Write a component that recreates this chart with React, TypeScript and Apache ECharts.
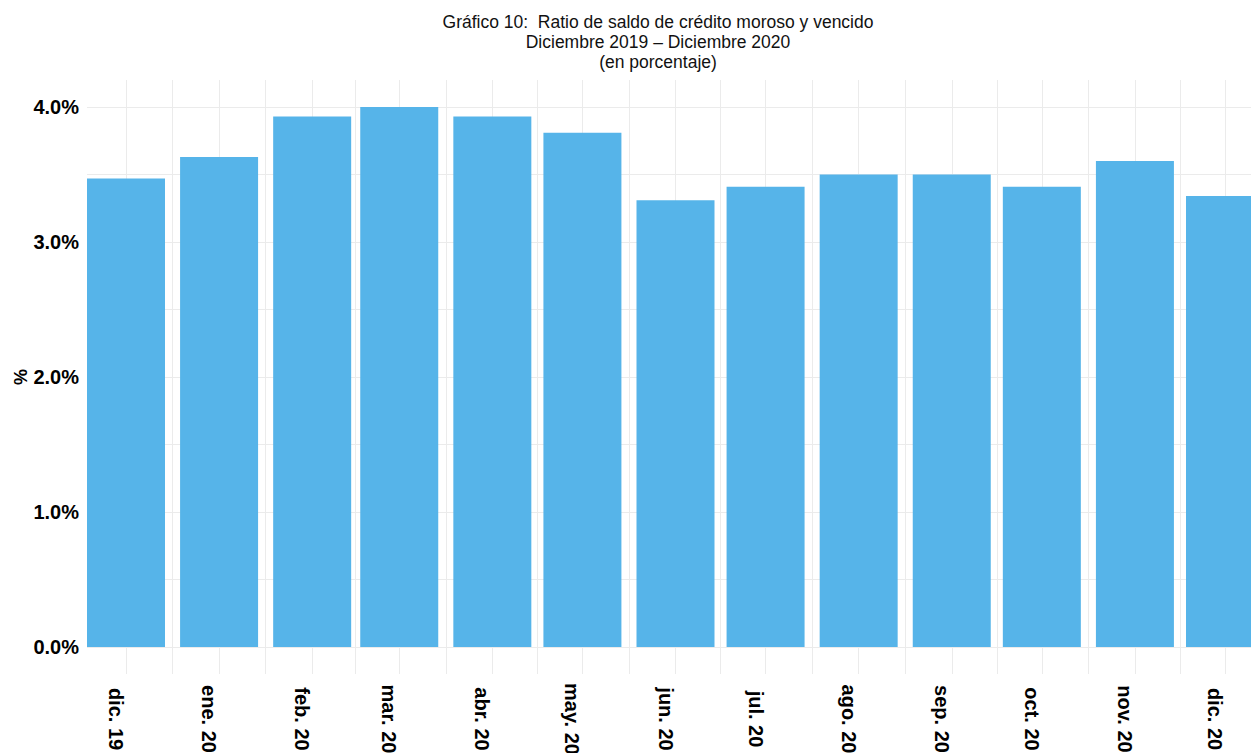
import React, { useEffect, useRef } from "react";
import * as echarts from "echarts";

// Month starts plotted on a time axis (bars centred on the first of each month)
const monthDates = [
  "2019-12-01", "2020-01-01", "2020-02-01", "2020-03-01", "2020-04-01",
  "2020-05-01", "2020-06-01", "2020-07-01", "2020-08-01", "2020-09-01",
  "2020-10-01", "2020-11-01", "2020-12-01",
];
const monthLabels = [
  "dic. 19", "ene. 20", "feb. 20", "mar. 20", "abr. 20", "may. 20", "jun. 20",
  "jul. 20", "ago. 20", "sep. 20", "oct. 20", "nov. 20", "dic. 20",
];
// Ratio de saldo de crédito moroso y vencido (%)
const ratioValues = [3.47, 3.63, 3.93, 4.0, 3.93, 3.81, 3.31, 3.41, 3.5, 3.5, 3.41, 3.6, 3.34];

const yLabelValues = [0, 1, 2, 3, 4];
const yGridValues = [0, 0.5, 1, 1.5, 2, 2.5, 3, 3.5, 4];

const titleLines = [
  "Gráfico 10:  Ratio de saldo de crédito moroso y vencido",
  "Diciembre 2019 – Diciembre 2020",
  "(en porcentaje)",
];

const DAY = 86400000;
const toUTC = (s: string) => {
  const [y, m, d] = s.split("-").map(Number);
  return Date.UTC(y, m - 1, d);
};

const FONT = "'Liberation Sans', Arial, Helvetica, sans-serif";

export default function App() {
  const ref = useRef<HTMLDivElement>(null);

  useEffect(() => {
    if (!ref.current) return;
    const chart = echarts.init(ref.current, undefined, { renderer: "svg" });

    const times = monthDates.map(toUTC);
    const midTimes = times.slice(1).map((t, i) => (t + times[i]) / 2);

    const gridLine = { color: "#ebebeb", width: 1, type: "solid" as const };

    chart.setOption({
      animation: false,
      useUTC: true,
      backgroundColor: "#ffffff",
      title: {
        text: titleLines.join("\n"),
        left: 653,
        top: 7,
        textAlign: "center",
        textStyle: {
          fontFamily: FONT,
          fontSize: 17.5,
          fontWeight: "normal",
          color: "#111111",
          lineHeight: 20,
        },
      },
      grid: {
        left: 87,
        top: 80,
        width: 1177,
        height: 594,
        containLabel: false,
        outerBoundsMode: "none",
      },
      xAxis: {
        // the bar layout widens this range by half a bar on each side
        type: "time",
        min: times[0],
        max: times[times.length - 1],
        splitNumber: 13,
        minInterval: 28 * DAY,
        maxInterval: 31 * DAY,
        axisLine: { show: false },
        axisTick: { show: false },
        splitLine: { show: false },
        axisLabel: {
          rotate: -90,
          align: "center",
          verticalAlign: "top",
          margin: 45,
          hideOverlap: false,
          fontFamily: FONT,
          fontSize: 20,
          fontWeight: "bold",
          color: "#000000",
          formatter: (value: number) => {
            const idx = times.findIndex((t) => Math.abs(t - value) < DAY / 2);
            return idx >= 0 ? monthLabels[idx] : "";
          },
        },
      },
      yAxis: {
        type: "value",
        min: -0.2,
        max: 4.2,
        interval: 0.1,
        name: "%",
        nameLocation: "middle",
        nameRotate: 90,
        nameGap: 57,
        nameMoveOverlap: false,
        nameTextStyle: {
          fontFamily: FONT,
          fontSize: 18,
          fontWeight: "bold",
          color: "#000000",
        },
        axisLine: { show: false },
        axisTick: { show: false },
        splitLine: { show: false },
        axisLabel: {
          margin: 8,
          fontFamily: FONT,
          fontSize: 20,
          fontWeight: "bold",
          color: "#000000",
          formatter: (value: number) => {
            const hit = yLabelValues.find((v) => Math.abs(v - value) < 1e-6);
            return hit === undefined ? "" : `${hit.toFixed(1)}%`;
          },
        },
      },
      series: [
        {
          // panel grid drawn behind the bars
          type: "line",
          z: 0,
          data: [],
          silent: true,
          markLine: {
            z: 0,
            silent: true,
            symbol: ["none", "none"],
            label: { show: false },
            emphasis: { disabled: true },
            lineStyle: gridLine,
            data: [
              ...yGridValues.map((v) => ({ yAxis: v })),
              ...times.map((t) => ({ xAxis: t })),
              ...midTimes.map((t) => ({ xAxis: t })),
            ],
          },
        },
        {
          type: "bar",
          z: 2,
          barWidth: 78,
          itemStyle: { color: "#56B4E9" },
          emphasis: { disabled: true },
          data: times.map((t, i) => [t, ratioValues[i]]),
        },
      ],
    });

    return () => chart.dispose();
  }, []);

  return (
    <div
      ref={ref}
      style={{ position: "absolute", left: 0, top: 0, width: 1251, height: 753 }}
    />
  );
}
